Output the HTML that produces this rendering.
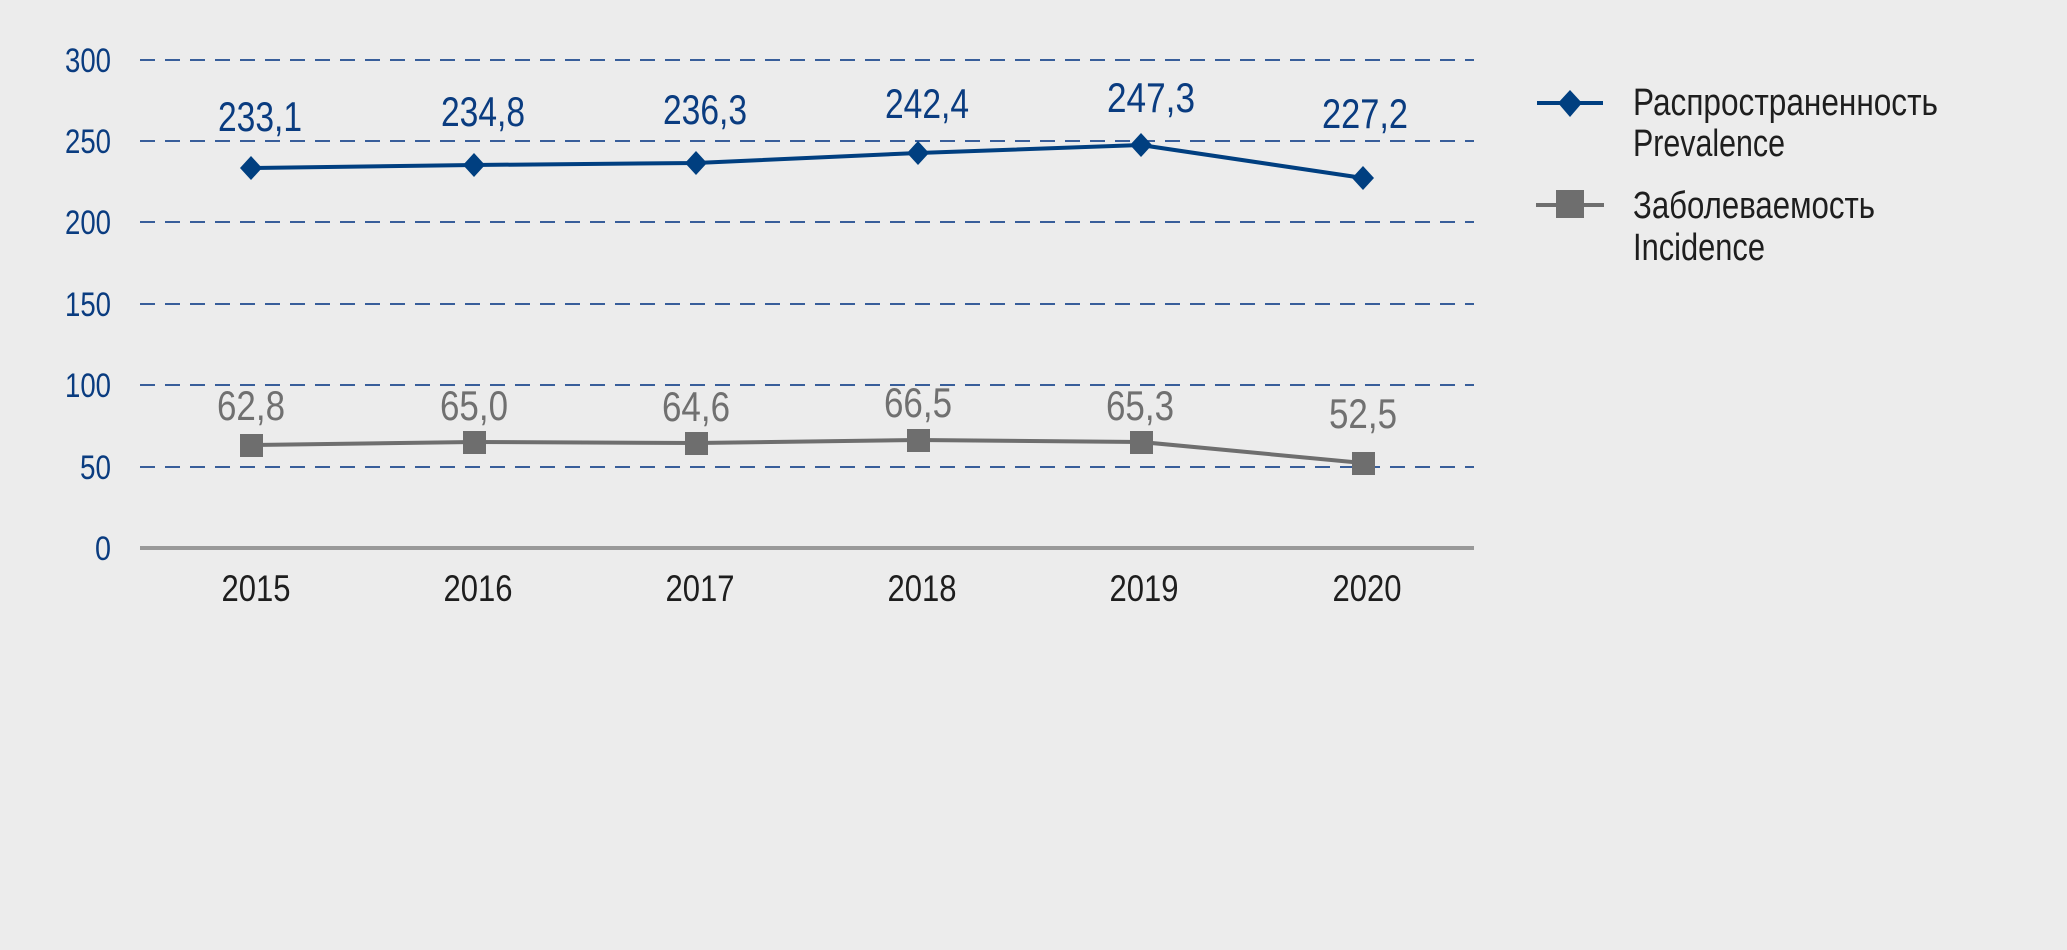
<!DOCTYPE html>
<html><head><meta charset="utf-8"><style>
html,body{margin:0;padding:0;background:#ececec;}
svg{display:block;}
text{font-family:"Liberation Sans Narrow","Liberation Sans",sans-serif;}
</style></head><body>
<svg width="2067" height="950" viewBox="0 0 2067 950" xmlns="http://www.w3.org/2000/svg">
<rect width="2067" height="950" fill="#ececec"/>
<g stroke="#1f4a8f" stroke-width="1.8" stroke-dasharray="15 10">
<line x1="140" x2="1474" y1="60" y2="60"/>
<line x1="140" x2="1474" y1="141" y2="141"/>
<line x1="140" x2="1474" y1="222" y2="222"/>
<line x1="140" x2="1474" y1="304" y2="304"/>
<line x1="140" x2="1474" y1="385" y2="385"/>
<line x1="140" x2="1474" y1="467" y2="467"/>
</g>
<line x1="140" x2="1474" y1="548" y2="548" stroke="#999" stroke-width="4"/>
<g fill="#0a3c80" font-size="34" text-anchor="end">
<text x="111" y="72" textLength="46" lengthAdjust="spacingAndGlyphs">300</text>
<text x="111" y="153" textLength="46" lengthAdjust="spacingAndGlyphs">250</text>
<text x="111" y="234" textLength="46" lengthAdjust="spacingAndGlyphs">200</text>
<text x="111" y="316" textLength="46" lengthAdjust="spacingAndGlyphs">150</text>
<text x="111" y="397" textLength="46" lengthAdjust="spacingAndGlyphs">100</text>
<text x="111" y="479" textLength="31" lengthAdjust="spacingAndGlyphs">50</text>
<text x="111" y="560" textLength="16" lengthAdjust="spacingAndGlyphs">0</text>
</g>
<g fill="#1e1e1e" font-size="37" text-anchor="middle">
<text x="256" y="601" textLength="69" lengthAdjust="spacingAndGlyphs">2015</text>
<text x="478" y="601" textLength="69" lengthAdjust="spacingAndGlyphs">2016</text>
<text x="700" y="601" textLength="69" lengthAdjust="spacingAndGlyphs">2017</text>
<text x="922" y="601" textLength="69" lengthAdjust="spacingAndGlyphs">2018</text>
<text x="1144" y="601" textLength="69" lengthAdjust="spacingAndGlyphs">2019</text>
<text x="1367" y="601" textLength="69" lengthAdjust="spacingAndGlyphs">2020</text>
</g>
<polyline fill="none" stroke="#003f80" stroke-width="4" points="251,168 474,165 696,163 918,153 1141,145 1363,178"/>
<g fill="#003f80">
<path d="M251,156 L262,168 L251,180 L240,168Z"/>
<path d="M474,153 L485,165 L474,177 L463,165Z"/>
<path d="M696,151 L707,163 L696,175 L685,163Z"/>
<path d="M918,141 L929,153 L918,165 L907,153Z"/>
<path d="M1141,133 L1152,145 L1141,157 L1130,145Z"/>
<path d="M1363,166 L1374,178 L1363,190 L1352,178Z"/>
</g>
<polyline fill="none" stroke="#6e6e6e" stroke-width="4" points="251,445 474,442 696,443 918,440 1141,442 1363,463"/>
<g fill="#6e6e6e">
<rect x="240" y="434" width="23" height="23"/>
<rect x="463" y="431" width="23" height="23"/>
<rect x="685" y="432" width="23" height="23"/>
<rect x="907" y="429" width="23" height="23"/>
<rect x="1130" y="431" width="23" height="23"/>
<rect x="1352" y="452" width="23" height="23"/>
</g>
<g fill="#0a3c80" font-size="42" text-anchor="middle">
<text x="260" y="131" textLength="84" lengthAdjust="spacingAndGlyphs">233,1</text>
<text x="483" y="126" textLength="84" lengthAdjust="spacingAndGlyphs">234,8</text>
<text x="705" y="124" textLength="84" lengthAdjust="spacingAndGlyphs">236,3</text>
<text x="927" y="118" textLength="84" lengthAdjust="spacingAndGlyphs">242,4</text>
<text x="1151" y="112" textLength="88" lengthAdjust="spacingAndGlyphs">247,3</text>
<text x="1365" y="128" textLength="86" lengthAdjust="spacingAndGlyphs">227,2</text>
</g>
<g fill="#707070" font-size="42" text-anchor="middle">
<text x="251" y="420" textLength="68" lengthAdjust="spacingAndGlyphs">62,8</text>
<text x="474" y="420" textLength="68" lengthAdjust="spacingAndGlyphs">65,0</text>
<text x="696" y="421" textLength="68" lengthAdjust="spacingAndGlyphs">64,6</text>
<text x="918" y="417" textLength="68" lengthAdjust="spacingAndGlyphs">66,5</text>
<text x="1140" y="420" textLength="68" lengthAdjust="spacingAndGlyphs">65,3</text>
<text x="1363" y="428" textLength="68" lengthAdjust="spacingAndGlyphs">52,5</text>
</g>
<line x1="1537" x2="1603" y1="103" y2="103" stroke="#003f80" stroke-width="4"/>
<path d="M1570,90 L1582,103 L1570,117 L1558,103Z" fill="#003f80"/>
<line x1="1536" x2="1604" y1="205" y2="205" stroke="#6e6e6e" stroke-width="4"/>
<rect x="1556" y="190" width="28" height="28" fill="#6e6e6e"/>
<g fill="#1e1e1e" font-size="38">
<text x="1633" y="115" textLength="305" lengthAdjust="spacingAndGlyphs">Распространенность</text>
<text x="1633" y="156" textLength="152" lengthAdjust="spacingAndGlyphs">Prevalence</text>
<text x="1633" y="218" textLength="242" lengthAdjust="spacingAndGlyphs">Заболеваемость</text>
<text x="1633" y="260" textLength="132" lengthAdjust="spacingAndGlyphs">Incidence</text>
</g>
</svg>
</body></html>
